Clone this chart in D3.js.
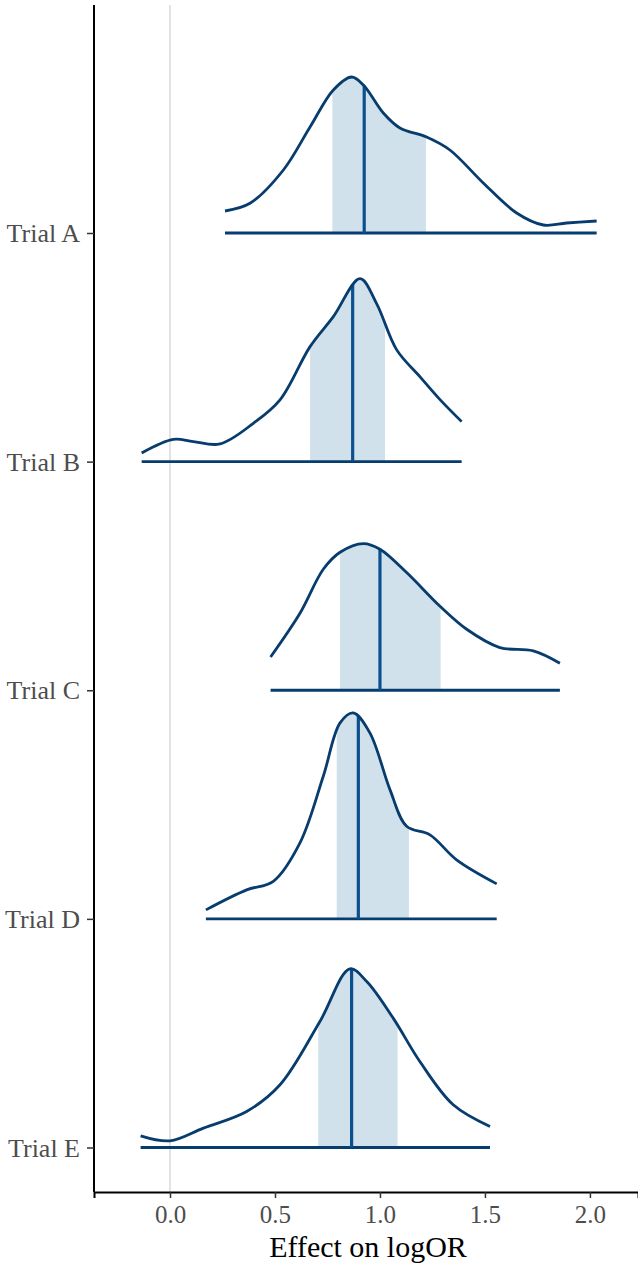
<!DOCTYPE html>
<html><head><meta charset="utf-8">
<script src="https://cdn.jsdelivr.net/npm/d3@7"></script>
<style>body{margin:0;background:#fff}svg{display:block}
text{font-family:"Liberation Serif","Times New Roman",serif}</style>
</head><body><svg id="c" width="638" height="1263"></svg>
<script>
const trials = ["Trial A","Trial B","Trial C","Trial D","Trial E"];
const xTicks = [0.0,0.5,1.0,1.5,2.0];
// density curves: logOR positions and density heights
const densA_x = [0.262,0.381,0.54,0.667,0.778,0.865,0.921,1.016,1.095,1.222,1.333,1.492,1.651,1.778,1.889,2.032];
const densA_y = [0.22,0.297,0.63,1.06,1.43,1.56,1.48,1.20,1.05,0.96,0.83,0.50,0.20,0.08,0.10,0.12];
const densB_x = [-0.135,0.016,0.111,0.238,0.397,0.524,0.667,0.778,0.905,0.984,1.079,1.19,1.286,1.389];
const densB_y = [0.087,0.223,0.20,0.177,0.383,0.617,1.15,1.45,1.83,1.58,1.12,0.85,0.62,0.40];
const densC_x = [0.479,0.619,0.73,0.81,0.921,1.0,1.127,1.286,1.413,1.571,1.73,1.857];
const densC_y = [0.333,0.77,1.21,1.38,1.467,1.41,1.177,0.84,0.61,0.427,0.393,0.27];
const densD_x = [0.171,0.365,0.492,0.619,0.73,0.81,0.873,0.952,1.048,1.127,1.238,1.365,1.556];
const densD_y = [0.09,0.29,0.376,0.76,1.426,1.96,2.06,1.86,1.29,0.926,0.84,0.59,0.35];
const densE_x = [-0.14,0.0,0.159,0.365,0.524,0.714,0.857,0.937,1.063,1.19,1.349,1.524];
const densE_y = [0.117,0.067,0.194,0.36,0.627,1.26,1.787,1.66,1.294,0.86,0.427,0.21];
// medians and intervals
const medians = [0.925,0.870,1.0,0.897,0.865];
const lower = [0.773,0.667,0.81,0.794,0.706];
const upper = [1.219,1.024,1.289,1.138,1.084];

const densX = [densA_x,densB_x,densC_x,densD_x,densE_x];
const densY = [densA_y,densB_y,densC_y,densD_y,densE_y];

const svg = d3.select("#c");
const x = d3.scaleLinear().domain([-0.362,2.229]).range([94,638]);
const y = d3.scalePoint().domain(trials).range([233,1147.5]);
const h = d3.scaleLinear().domain([0,1]).range([0,100]);
const lineCol = "#073c6e", medCol = "#0b508e", fillCol = "#d1e1ec";

// zero reference line
svg.append("line").attr("x1",x(0)).attr("x2",x(0)).attr("y1",5).attr("y2",1192)
  .attr("stroke","#e3e3e3").attr("stroke-width",2);

const curve = d3.curveCatmullRom.alpha(0.5);
trials.forEach((t,i)=>{
  const pts = densX[i].map((v,j)=>[v,densY[i][j]]);
  const base = y(t);
  const g = svg.append("g");
  const clipId = "clip"+i;
  svg.append("clipPath").attr("id",clipId).append("rect")
    .attr("x",x(lower[i])).attr("width",x(upper[i])-x(lower[i]))
    .attr("y",base-400).attr("height",400);
  const area = d3.area().x(d=>x(d[0])).y0(base).y1(d=>base-h(d[1])).curve(curve);
  g.append("path").attr("d",area(pts)).attr("fill",fillCol).attr("clip-path",`url(#${clipId})`);
  g.append("line").attr("x1",x(densX[i][0])).attr("x2",x(densX[i][densX[i].length-1]))
    .attr("y1",base).attr("y2",base).attr("stroke",lineCol).attr("stroke-width",2.8);
  const line = d3.line().x(d=>x(d[0])).y(d=>base-h(d[1])).curve(curve);
  const p = g.append("path").attr("d",line(pts)).attr("fill","none").attr("stroke",lineCol).attr("stroke-width",2.8);
  const node = p.node(); const L = node.getTotalLength();
  let lo=0, hi=L, mx=x(medians[i]);
  for(let k=0;k<40;k++){const m=(lo+hi)/2; if(node.getPointAtLength(m).x<mx) lo=m; else hi=m;}
  const topY = node.getPointAtLength(lo).y;
  g.insert("line", "path:last-of-type").attr("x1",mx).attr("x2",mx).attr("y1",base).attr("y2",topY)
    .attr("stroke",medCol).attr("stroke-width",3.2);
});

// axes
const xAxis = d3.axisBottom(x).tickValues(xTicks).tickFormat(d3.format(".1f")).tickSizeOuter(0).tickSize(6);
const gx = svg.append("g").attr("transform","translate(0,1192)").call(xAxis);
gx.attr("font-family",null).attr("font-size",null);
gx.select(".domain").attr("stroke","#000").attr("stroke-width",2);
gx.selectAll(".tick line").attr("stroke","#333").attr("stroke-width",1.5);
gx.selectAll(".tick text").attr("fill","#4d4d4d").style("font-family",'"Liberation Serif",serif').style("font-size","25px").attr("y",31).attr("dy",null);

const yAxis = d3.axisLeft(y).tickSizeOuter(0).tickSize(7);
const gy = svg.append("g").attr("transform","translate(94,0)").call(yAxis);
gy.attr("font-family",null).attr("font-size",null);
gy.select(".domain").attr("d","M0,5V1192").attr("stroke","#000").attr("stroke-width",2);
gy.selectAll(".tick line").attr("stroke","#333").attr("stroke-width",1.5);
gy.selectAll(".tick text").attr("fill","#4d4d4d").style("font-family",'"Liberation Serif",serif').style("font-size","26px").attr("x",-14).attr("dy","0.33em");

svg.append("text").attr("x",368).attr("y",1257).attr("text-anchor","middle")
  .style("font-family",'"Liberation Serif",serif').style("font-size","30px").attr("fill","#000").text("Effect on logOR");
</script></body></html>
